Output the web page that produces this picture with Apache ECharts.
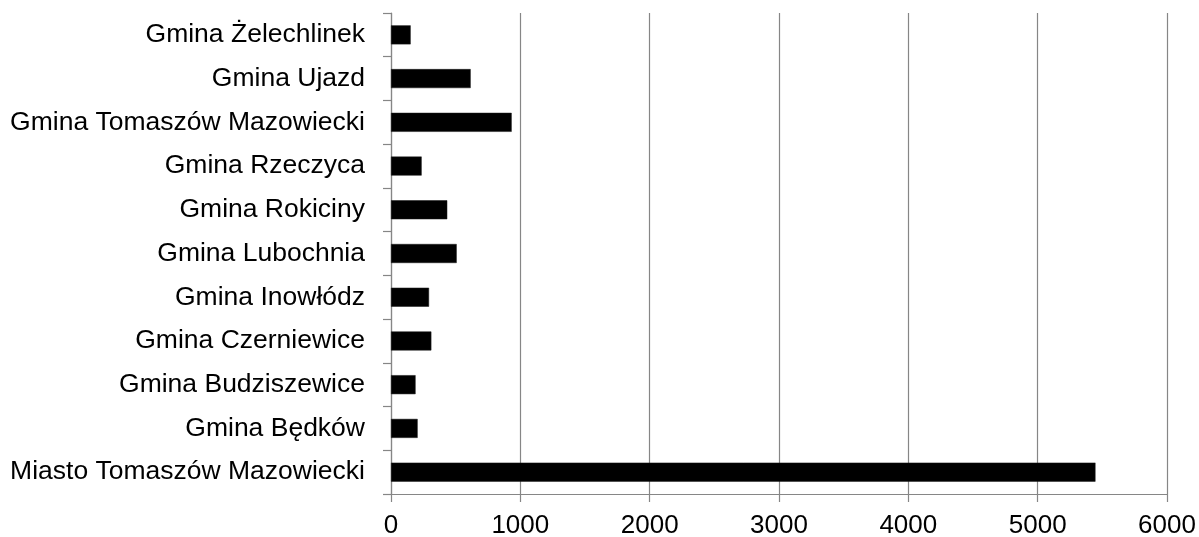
<!DOCTYPE html>
<html>
<head>
<meta charset="utf-8">
<script src="https://cdn.jsdelivr.net/npm/echarts@6/dist/echarts.min.js"></script>
<style>
  html, body { margin: 0; padding: 0; background: #fff; }
  #chart { width: 1199px; height: 537px; }
</style>
</head>
<body>
<div id="chart"></div>
<script>
// Communes, bottom to top as drawn on the category axis
const categories = [
  'Miasto Tomaszów Mazowiecki',
  'Gmina Będków',
  'Gmina Budziszewice',
  'Gmina Czerniewice',
  'Gmina Inowłódz',
  'Gmina Lubochnia',
  'Gmina Rokiciny',
  'Gmina Rzeczyca',
  'Gmina Tomaszów Mazowiecki',
  'Gmina Ujazd',
  'Gmina Żelechlinek'
];
const values = [5447, 206, 190, 312, 294, 508, 435, 237, 933, 616, 152];

const axisMin = 0;
const axisMax = 6000;
const axisStep = 1000;

const gray = '#868686';
const lineW = 1.2;
const font = '"Liberation Sans", Arial, sans-serif';

const chart = echarts.init(document.getElementById('chart'), null, { renderer: 'canvas' });
chart.setOption({
  animation: false,
  backgroundColor: '#ffffff',
  grid: {
    left: 391, right: 32, top: 13, bottom: 43,
    containLabel: false,
    outerBoundsMode: 'none'
  },
  xAxis: {
    type: 'value',
    min: axisMin,
    max: axisMax,
    interval: axisStep,
    axisLine: { show: true, lineStyle: { color: gray, width: lineW } },
    axisTick: { show: true, length: 8, lineStyle: { color: gray, width: lineW } },
    splitLine: { show: true, lineStyle: { color: gray, width: lineW } },
    axisLabel: {
      color: '#000', fontFamily: font, fontSize: 26, margin: 19,
      formatter: (v) => String(v)
    }
  },
  yAxis: {
    type: 'category',
    data: categories,
    axisLine: { show: true, lineStyle: { color: gray, width: lineW } },
    axisTick: { show: true, length: 8, lineStyle: { color: gray, width: lineW } },
    splitLine: { show: false },
    axisLabel: { color: '#000', fontFamily: font, fontSize: 26.5, margin: 26 }
  },
  series: [{
    type: 'bar',
    data: values,
    barWidth: 19,
    itemStyle: { color: '#000000', borderColor: '#1a1a1a', borderWidth: 0.5 }
  }]
});
</script>
</body>
</html>
